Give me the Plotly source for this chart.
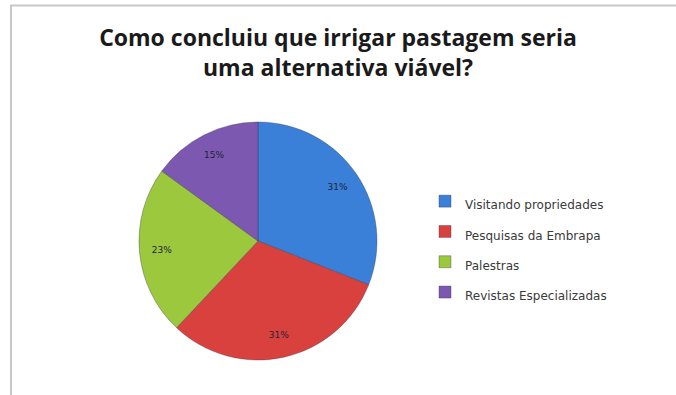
import plotly.graph_objects as go

categories = ["Visitando propriedades", "Pesquisas da Embrapa", "Palestras", "Revistas Especializadas"]
values = [31, 31, 23, 15]
colors = ["#3A80D8", "#D9413F", "#9CC83E", "#7C58B0"]
title_text = "Como concluiu que irrigar pastagem seria<br>uma alternativa viável?"

W, H = 676, 395
cx, cy, R = 258, 241, 119
dom_x = [(cx - R) / W, (cx + R) / W]
dom_y = [(H - cy - R) / H, (H - cy + R) / H]

legend_labels = [f'<span style="font-size:12px">{c}</span>' for c in categories]

fig = go.Figure()
fig.add_trace(go.Pie(
    labels=legend_labels, values=values, sort=False, direction="clockwise", rotation=0,
    marker=dict(colors=colors, line=dict(color="rgba(50,50,70,0.35)", width=1)),
    textinfo="none", domain=dict(x=dom_x, y=dom_y), showlegend=True,
    hoverinfo="skip",
))
# label ring (transparent) so percentages sit near the outer part like Excel
fig.add_trace(go.Pie(
    labels=legend_labels, values=values, sort=False, direction="clockwise", rotation=0,
    hole=0.62, marker=dict(colors=["rgba(0,0,0,0)"] * 4, line=dict(width=0)),
    textinfo="percent", textposition="inside", insidetextorientation="horizontal",
    texttemplate="%{percent:.0%}",
    textfont=dict(family="DejaVu Sans", size=9, color="#1c2436"),
    domain=dict(x=dom_x, y=dom_y), showlegend=False, hoverinfo="skip",
))

fig.update_layout(
    width=W, height=H,
    margin=dict(l=0, r=0, t=0, b=0),
    paper_bgcolor="white", plot_bgcolor="white",
    title=dict(text=title_text, x=0.5, xanchor="center", y=1 - 46 / H, yanchor="middle",
               font=dict(family="Open Sans", size=23, color="#1a1a1a", weight="bold")),
    legend=dict(x=425 / W, xanchor="left", y=1 - 181 / H, yanchor="top",
                font=dict(family="DejaVu Sans", size=21, color="#3a3a3a"),
                bgcolor="rgba(0,0,0,0)", traceorder="normal"),
    shapes=[
        dict(type="line", xref="paper", yref="paper", x0=10 / W, x1=1, y0=1 - 5.5 / H, y1=1 - 5.5 / H,
             line=dict(color="#c8c8c8", width=2)),
        dict(type="line", xref="paper", yref="paper", x0=11 / W, x1=11 / W, y0=0, y1=1 - 5 / H,
             line=dict(color="#c8c8c8", width=2)),
    ],
)
fig.write_html("out.html")
